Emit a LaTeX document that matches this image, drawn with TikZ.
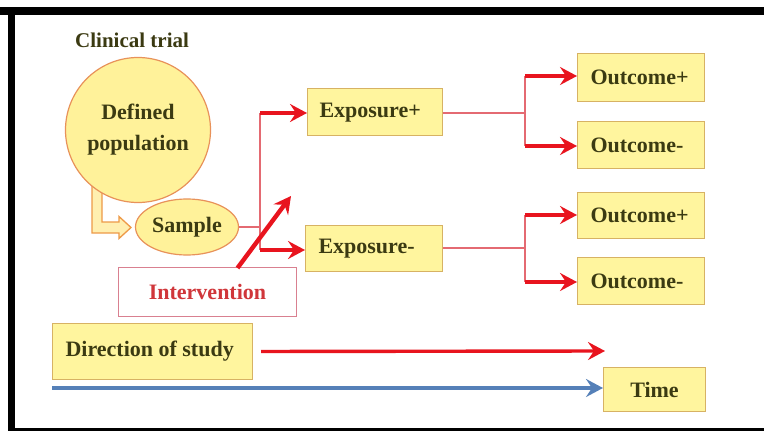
\documentclass[tikz,border=0pt]{standalone}
\usepackage{fontspec}
\setmainfont{Liberation Serif}
\usetikzlibrary{arrows.meta,shapes.geometric}

\definecolor{boxfill}{HTML}{FFF59E}
\definecolor{boxline}{HTML}{D7B264}
\definecolor{circfill}{HTML}{FFF29A}
\definecolor{circline}{HTML}{E8925A}
\definecolor{txt}{HTML}{3B3A12}
\definecolor{arrred}{HTML}{E8141E}
\definecolor{linkred}{HTML}{E46A72}
\definecolor{intline}{HTML}{D98090}
\definecolor{inttxt}{HTML}{D0363A}
\definecolor{timeblue}{HTML}{5580B8}
\definecolor{bentfill}{HTML}{FFEFB0}
\definecolor{bentline}{HTML}{EE9A48}

\tikzset{
  x=1pt, y=-1pt,
  lbl/.style={font=\fontsize{22}{26}\selectfont\bfseries, text=txt},
  ybox/.style={lbl, draw=boxline, fill=boxfill, line width=1pt, inner sep=0pt, anchor=north west},
  link/.style={draw=linkred, line width=1.4pt},
  bighead/.style={-{Stealth[length=17pt,width=18pt,inset=6pt]}},
  redarrow/.style={draw=arrred, line width=3.4pt, bighead},
}

\begin{document}
\begin{tikzpicture}
  % canvas and frame
  \useasboundingbox (0,0) rectangle (764,431);
  \fill[white] (0,0) rectangle (764,431);
  \fill[black] (0,7) rectangle (764,15);
  \fill[black] (8,7) rectangle (15,431);
  \fill[black] (8,428) rectangle (764,431);

  % title
  \node[lbl, font=\fontsize{21}{24}\selectfont\bfseries, anchor=west, inner sep=0pt] (title) at (75,40) {Clinical trial};

  % hollow bent arrow from population to sample
  \path[draw=bentline, fill=bentfill, line width=1.3pt, line join=miter]
    (92,185) -- (92,233) -- (119,233) -- (119,238.5) -- (131,227.5) -- (119,216.5) -- (119,222) -- (102,222) -- (102,185) -- cycle;

  % population and sample
  \node[lbl, circle, draw=circline, fill=circfill, line width=1.2pt, minimum size=145pt, inner sep=0pt, align=center,
        font=\fontsize{22}{31}\selectfont\bfseries] (pop) at (138,130) {Defined\\population};
  \node[lbl, ellipse, draw=circline, fill=circfill, line width=1.2pt, minimum width=103pt, minimum height=56pt, inner sep=0pt]
    (sample) at (187,227) {Sample};

  % exposure boxes
  \node[ybox, minimum width=135pt, minimum height=47pt] (expP) at (307,88) {};
  \node[lbl, anchor=west] at (expP.west) [xshift=9pt, yshift=-1pt] {Exposure+};
  \node[ybox, minimum width=137pt, minimum height=46pt] (expM) at (305,225) {};
  \node[lbl, anchor=west] at (expM.west) [xshift=10pt] {Exposure-};

  % outcome boxes
  \node[ybox, minimum width=127pt, minimum height=48pt] (o1) at (577,53) {};
  \node[lbl, anchor=west] at (o1.west) [xshift=10pt] {Outcome+};
  \node[ybox, minimum width=127pt, minimum height=47pt] (o2) at (577,121) {};
  \node[lbl, anchor=west] at (o2.west) [xshift=10pt] {Outcome-};
  \node[ybox, minimum width=127pt, minimum height=46pt] (o3) at (577,192) {};
  \node[lbl, anchor=west] at (o3.west) [xshift=10pt] {Outcome+};
  \node[ybox, minimum width=127pt, minimum height=47pt] (o4) at (577,257) {};
  \node[lbl, anchor=west] at (o4.west) [xshift=10pt] {Outcome-};

  % intervention
  \node[draw=intline, fill=white, line width=1pt, minimum width=178pt, minimum height=49pt, anchor=north west,
        font=\fontsize{22}{26}\selectfont\bfseries, text=inttxt] (interv) at (118,267) {Intervention};

  % bottom row
  \node[ybox, minimum width=200pt, minimum height=56pt] (dir) at (52,323) {};
  \node[lbl, anchor=west] at (dir.west) [xshift=10pt] {Direction of study};
  \node[ybox, minimum width=102pt, minimum height=44pt] (time) at (603,367) {Time};

  % branching from sample to exposures
  \coordinate (j0) at (260,227);
  \coordinate (jt) at (260,113);
  \coordinate (jb) at (260,250);
  \draw[link] (sample.east) -- (j0);
  \draw[link] (jt) -- (jb);
  \draw[redarrow] (jt) -- (jt -| expP.west);
  \draw[redarrow] (jb) -- (jb -| expM.west);

  % branching from exposure+ to outcomes
  \coordinate (k0) at (525,113);
  \coordinate (kt) at (525,76);
  \coordinate (kb) at (525,146);
  \draw[link] (expP.east |- k0) -- (k0);
  \draw[link] (kt) -- (kb);
  \draw[redarrow] (kt) -- (kt -| o1.west);
  \draw[redarrow] (kb) -- (kb -| o2.west);

  % branching from exposure- to outcomes
  \coordinate (m0) at (525,248);
  \coordinate (mt) at (525,215);
  \coordinate (mb) at (525,282);
  \draw[link] (expM.east |- m0) -- (m0);
  \draw[link] (mt) -- (mb);
  \draw[redarrow] (mt) -- (mt -| o3.west);
  \draw[redarrow] (mb) -- (mb -| o4.west);

  % intervention arrow
  \coordinate (ivend) at (291,196);
  \draw[redarrow, line width=4.4pt] ([xshift=30pt,yshift=-1pt]interv.north) -- (ivend);

  % direction of study and time axes
  \coordinate (dirend) at (605,351);
  \draw[redarrow, shorten <=8pt] (dir.east) -- (dirend);
  \coordinate (tstart) at (52,388);
  \draw[draw=timeblue, line width=3.4pt, bighead] (tstart) -- (tstart -| time.west);
\end{tikzpicture}
\end{document}
